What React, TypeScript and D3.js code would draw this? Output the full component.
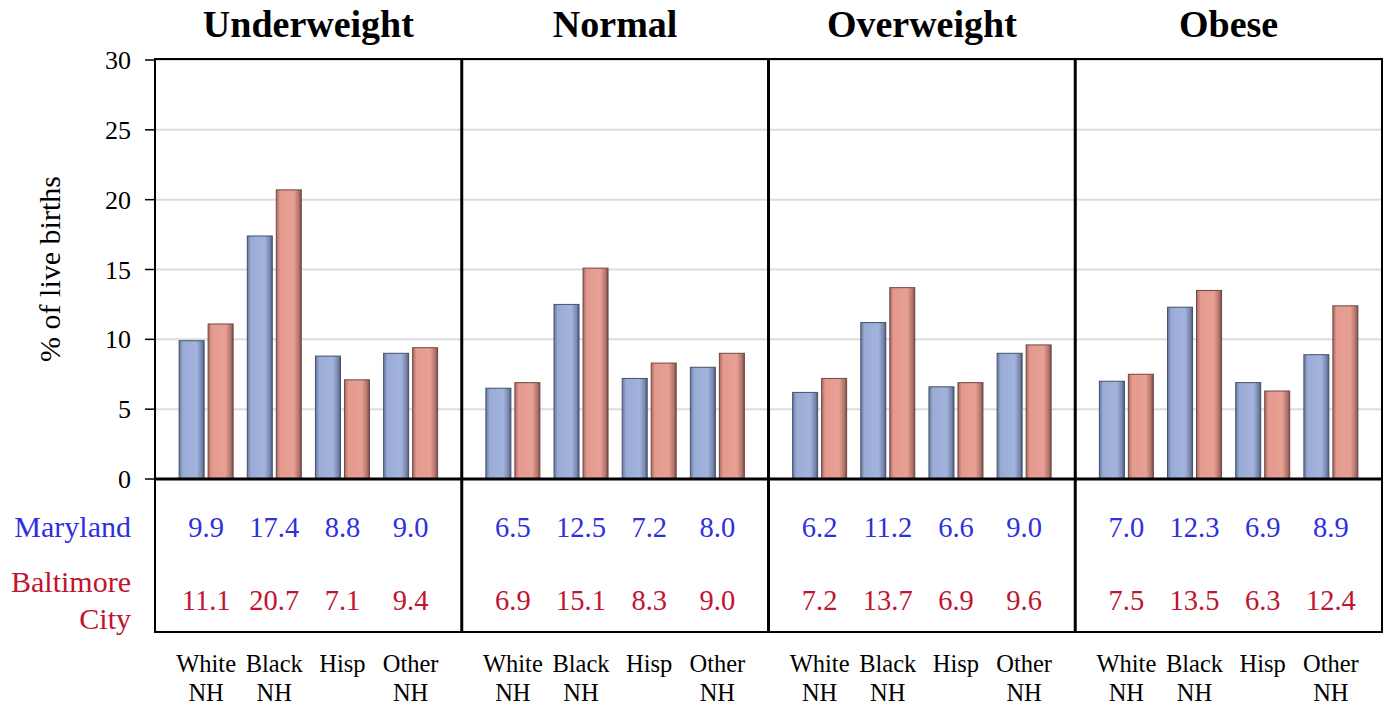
import React from "react";
import * as d3 from "d3";

const panels = ["Underweight", "Normal", "Overweight", "Obese"];
const groups = ["White NH", "Black NH", "Hisp", "Other NH"];
const marylandValues = [
  [9.9, 17.4, 8.8, 9.0],
  [6.5, 12.5, 7.2, 8.0],
  [6.2, 11.2, 6.6, 9.0],
  [7.0, 12.3, 6.9, 8.9],
];
const baltimoreValues = [
  [11.1, 20.7, 7.1, 9.4],
  [6.9, 15.1, 8.3, 9.0],
  [7.2, 13.7, 6.9, 9.6],
  [7.5, 13.5, 6.3, 12.4],
];
const yTicks = [0, 5, 10, 15, 20, 25, 30];

const FONT = "'Liberation Serif', 'Times New Roman', serif";
const BLUE_TEXT = "#2f2fe0";
const RED_TEXT = "#c0142f";

export default function App() {
  const W = 1387, H = 707;
  const left = 155, right = 1382, top = 59, plotBottom = 479, tableBottom = 632;
  const y = d3.scaleLinear().domain([0, 30]).range([plotBottom, 60]);
  const panelX = d3.scaleBand().domain(panels).range([left, right]).padding(0);
  const pw = panelX.bandwidth();
  const gx = d3.scalePoint().domain(groups).range([0, pw]).padding(0.75);
  const barW = 25, gap = 4;

  return (
    <svg width={W} height={H} style={{ position: "absolute", left: 0, top: 0, background: "#fff" }} fontFamily={FONT}>
      <defs>
        <linearGradient id="gBlue" x1="0" x2="1" y1="0" y2="0">
          <stop offset="0" stopColor="#66789f" />
          <stop offset="0.15" stopColor="#9aacd6" />
          <stop offset="0.7" stopColor="#a2b3dc" />
          <stop offset="0.9" stopColor="#7787b0" />
          <stop offset="1" stopColor="#4f5b78" />
        </linearGradient>
        <linearGradient id="gRed" x1="0" x2="1" y1="0" y2="0">
          <stop offset="0" stopColor="#aa6a61" />
          <stop offset="0.15" stopColor="#e49a8f" />
          <stop offset="0.7" stopColor="#e89f94" />
          <stop offset="0.9" stopColor="#b3756c" />
          <stop offset="1" stopColor="#764d47" />
        </linearGradient>
      </defs>
      {yTicks.filter(t => t > 0).map(t => (
        <line key={"g" + t} x1={left} x2={right} y1={y(t)} y2={y(t)} stroke="#dcdcdc" strokeWidth={2} />
      ))}
      {yTicks.map(t => (
        <g key={"t" + t}>
          <line x1={left - 10} x2={left} y1={y(t)} y2={y(t)} stroke="#000" strokeWidth={1.5} />
          <text x={left - 24} y={y(t)} dy="0.35em" textAnchor="end" fontSize={26}>{t}</text>
        </g>
      ))}
      <text transform={`translate(60,${(top + plotBottom) / 2}) rotate(-90)`} textAnchor="middle" fontSize={30}>% of live births</text>
      {panels.map((p, pi) => {
        const x0 = panelX(p)!;
        return (
          <g key={p}>
            <text x={x0 + pw / 2} y={37} textAnchor="middle" fontSize={38} fontWeight="bold">{p}</text>
            {groups.map((g, gi) => {
              const cx = x0 + gx(g)!;
              const mv = marylandValues[pi][gi];
              const bv = baltimoreValues[pi][gi];
              return (
                <g key={g}>
                  <rect x={cx - gap / 2 - barW} y={y(mv)} width={barW} height={plotBottom - y(mv)} fill="url(#gBlue)" stroke="#45506a" strokeWidth={1} />
                  <rect x={cx + gap / 2} y={y(bv)} width={barW} height={plotBottom - y(bv)} fill="url(#gRed)" stroke="#6e4742" strokeWidth={1} />
                  <text x={cx} y={537} textAnchor="middle" fontSize={28.5} fill={BLUE_TEXT}>{mv.toFixed(1)}</text>
                  <text x={cx} y={610} textAnchor="middle" fontSize={28.5} fill={RED_TEXT}>{bv.toFixed(1)}</text>
                  {g.split(" ").map((w, wi) => (
                    <text key={wi} x={cx} y={672 + wi * 29} textAnchor="middle" fontSize={24.5}>{w}</text>
                  ))}
                </g>
              );
            })}
          </g>
        );
      })}
      <rect x={left} y={top} width={right - left} height={tableBottom - top} fill="none" stroke="#000" strokeWidth={2} />
      <line x1={left} x2={right} y1={plotBottom} y2={plotBottom} stroke="#000" strokeWidth={3} />
      {panels.slice(1).map(p => (
        <line key={"s" + p} x1={panelX(p)!} x2={panelX(p)!} y1={top} y2={tableBottom} stroke="#000" strokeWidth={3} />
      ))}
      <text x={131} y={537} textAnchor="end" fontSize={30} fill={BLUE_TEXT}>Maryland</text>
      <text x={131} y={592} textAnchor="end" fontSize={30} fill={RED_TEXT}>Baltimore</text>
      <text x={131} y={629} textAnchor="end" fontSize={30} fill={RED_TEXT}>City</text>
    </svg>
  );
}
